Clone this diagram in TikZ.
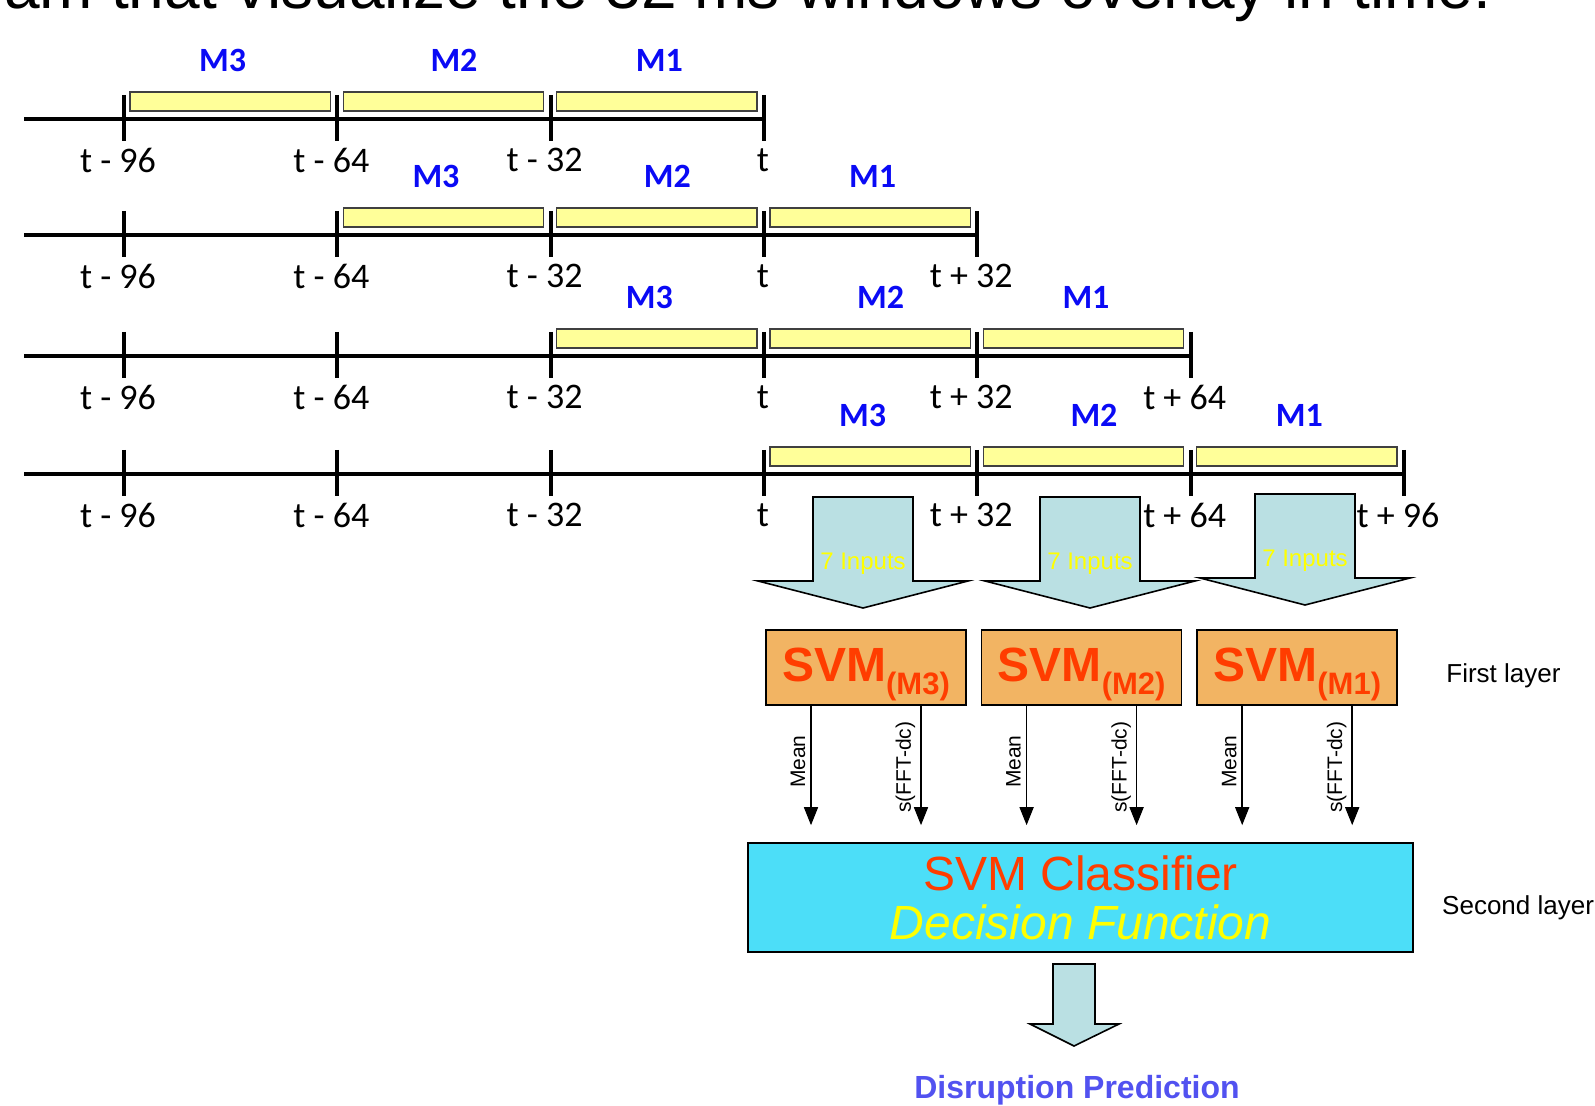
\documentclass[tikz,border=0pt]{standalone}
\usepackage{fontspec}
\setmainfont{Liberation Sans}
\newfontfamily\calfont{Carlito}
\usetikzlibrary{positioning,calc,arrows.meta}

\definecolor{winyellow}{HTML}{FFFF99}
\definecolor{mblue}{HTML}{0A0AF5}
\definecolor{arrowblue}{HTML}{BAE0E3}
\definecolor{svmorange}{HTML}{F2B463}
\definecolor{svmred}{HTML}{FF3D00}
\definecolor{clscyan}{HTML}{4CDEF8}
\definecolor{predblue}{HTML}{5252F0}
\definecolor{inyellow}{HTML}{FFFF00}

\newcommand{\svmlabel}[1]{\rule{0pt}{23.5pt}\textbf{\fontsize{24}{24}\selectfont SVM\raisebox{-6.5pt}{\fontsize{15.5}{15.5}\selectfont(#1)}}}

\begin{document}
\begin{tikzpicture}[
  x=0.5pt, y=-0.5pt,
  node distance=7pt,
  axis/.style={line width=2pt},
  tickmark/.style={line width=2pt},
  win/.style={draw=black!75, fill=winyellow, line width=0.6pt},
  ticklab/.style={font=\calfont\fontsize{18}{18}\selectfont, inner sep=0pt},
  winlab/.style={font=\calfont\bfseries\fontsize{17}{17}\selectfont, text=mblue, inner sep=0pt},
  bigarrow/.style={draw=black, fill=arrowblue, line width=0.8pt, line join=miter},
  inlab/.style={font=\fontsize{12}{12}\selectfont, text=inyellow, inner sep=0pt},
  svmbox/.style={draw=black, fill=svmorange, text=svmred, line width=0.8pt,
    minimum width=100pt, minimum height=37.5pt, inner sep=0pt},
  feat/.style={-{Triangle[length=9pt,width=7pt]}, line width=0.75pt, shorten >=8.5pt},
  featlab/.style={rotate=90, anchor=south, inner sep=2.5pt, font=\fontsize{10.5}{10.5}\selectfont},
  layerlab/.style={font=\fontsize{13}{13}\selectfont, inner sep=0pt}
]
  \useasboundingbox (0,0) rectangle (1595,1106);
  \clip (0,0) rectangle (1595,1106);

  \node[anchor=base west, inner sep=0pt, font=\fontsize{32}{32}\selectfont] (title) at (4,9)
    {am that visualize the 32 ms windows overlay in time.};

  % time lines with the three windows
  \foreach \r/\ly in {0/119, 1/235, 2/356, 3/474} {
    \pgfmathtruncatemacro\last{\r+3}
    \draw[axis] (24,\ly) -- ({124+213.33*\last},\ly);
    \foreach \k in {0,...,\last}
      \draw[tickmark] ({124+213.33*\k},{\ly-24}) -- ({124+213.33*\k},{\ly+22});
    \foreach \k/\lab/\dx in {0/t - 96/-6, 1/t - 64/-6, 2/t - 32/-6, 3/t/-1, 4/t + 32/-6, 5/t + 64/-6, 6/t + 96/-6} {
      \ifnum\k>\last\relax\else
        \node[ticklab] (lab\r\k) at ({124+213.33*\k+\dx},{\ly+41}) {\lab};
      \fi
    }
    \foreach \j/\n/\dx in {0/3/-8, 1/2/10, 2/1/2} {
      \draw[win] ({124+213.33*(\r+\j)+6},{\ly-27}) rectangle ({124+213.33*(\r+\j+1)-7},{\ly-8});
      \node[winlab] (m\r\n) at ({124+213.33*(\r+\j+0.5)+\dx},{\ly-59}) {M\n};
    }
  }

  % inputs
  \foreach \i/\cx/\ay in {3/863/497, 2/1090/497, 1/1305/494} {
    \draw[bigarrow] ({\cx-50},\ay) -- ({\cx+50},\ay) -- ({\cx+50},{\ay+84}) -- ({\cx+105},{\ay+84})
      -- (\cx,{\ay+111}) -- ({\cx-105},{\ay+84}) -- ({\cx-50},{\ay+84}) -- cycle;
    \node[inlab] (in\i) at (\cx,{\ay+67}) {7 Inputs};
  }

  % first layer
  \node[svmbox] (svm3) at (866,667.5) {\svmlabel{M3}};
  \node[svmbox, right=of svm3] (svm2) {\svmlabel{M2}};
  \node[svmbox, right=of svm2] (svm1) {\svmlabel{M1}};
  \node[layerlab, right=24pt of svm1, yshift=-4pt] (first) {First layer};

  % second layer
  \node[draw=black, fill=clscyan, line width=0.8pt, minimum width=332.5pt, minimum height=54.5pt,
    align=center, font=\fontsize{24}{24.5}\selectfont] (cls) at (1080.5,897.5)
    {\textcolor{svmred}{SVM Classifier}\\\textcolor{inyellow}{\itshape Decision Function}};
  \node[layerlab, right=14pt of cls, yshift=-5.25pt] (second) {Second layer};

  \foreach \s in {3,2,1} {
    \coordinate (mean\s) at ($(svm\s.south)+(-55,0)$);
    \coordinate (fft\s) at ($(svm\s.south)+(55,0)$);
    \draw[feat] (mean\s) -- (mean\s |- cls.north) node[featlab, pos=0.41] {Mean};
    \draw[feat] (fft\s) -- (fft\s |- cls.north) node[featlab, pos=0.45] {s(FFT-dc)};
  }

  % output
  \draw[bigarrow] (1053,964) -- (1095,964) -- (1095,1024) -- (1119,1024) -- (1074,1046)
    -- (1030,1024) -- (1053,1024) -- cycle;
  \node[font=\bfseries\fontsize{16}{16}\selectfont, text=predblue, inner sep=0pt] (pred) at (1077,1090)
    {Disruption Prediction};
\end{tikzpicture}
\end{document}
